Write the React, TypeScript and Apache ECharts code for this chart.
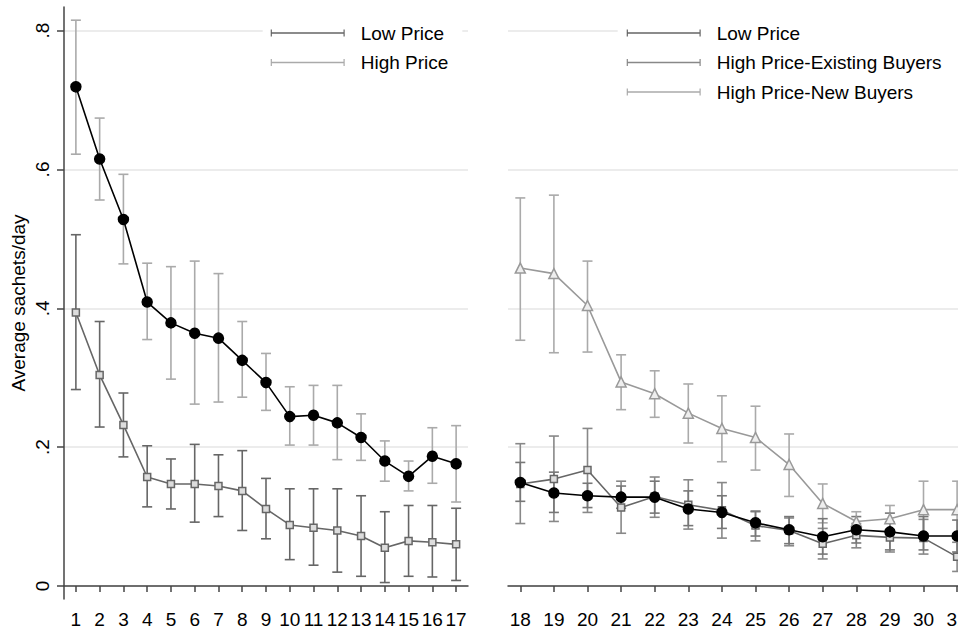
import React, { useEffect, useRef } from "react";
import * as echarts from "echarts";

const leftDays = [1, 2, 3, 4, 5, 6, 7, 8, 9, 10, 11, 12, 13, 14, 15, 16, 17];
const rightDays = [18, 19, 20, 21, 22, 23, 24, 25, 26, 27, 28, 29, 30, 31];
const yTickValues = [0, 0.2, 0.4, 0.6, 0.8];
const yTickLabels = ["0", ".2", ".4", ".6", ".8"];

// Left panel: black circles (light-grey CI) and grey squares (dark-grey CI)
const leftCircle = [0.719, 0.615, 0.528, 0.409, 0.379, 0.364, 0.357, 0.325, 0.293, 0.244, 0.246, 0.235, 0.214, 0.18, 0.158, 0.187, 0.176];
const leftCircleLo = [0.622, 0.556, 0.464, 0.355, 0.298, 0.262, 0.265, 0.272, 0.253, 0.203, 0.203, 0.182, 0.181, 0.151, 0.137, 0.148, 0.121];
const leftCircleHi = [0.815, 0.674, 0.593, 0.465, 0.46, 0.468, 0.45, 0.381, 0.335, 0.287, 0.289, 0.289, 0.248, 0.209, 0.18, 0.228, 0.231];
const leftSquare = [0.394, 0.304, 0.232, 0.157, 0.147, 0.147, 0.144, 0.137, 0.111, 0.088, 0.084, 0.08, 0.072, 0.055, 0.065, 0.063, 0.06];
const leftSquareLo = [0.283, 0.229, 0.186, 0.114, 0.111, 0.092, 0.1, 0.08, 0.068, 0.038, 0.03, 0.02, 0.014, 0.005, 0.014, 0.013, 0.008];
const leftSquareHi = [0.506, 0.381, 0.278, 0.202, 0.183, 0.204, 0.189, 0.195, 0.155, 0.14, 0.14, 0.14, 0.13, 0.107, 0.116, 0.116, 0.112];

// Right panel
const rightLow = [0.149, 0.134, 0.13, 0.128, 0.128, 0.111, 0.106, 0.091, 0.081, 0.071, 0.081, 0.078, 0.072, 0.072];
const rightLowLo = [0.122, 0.106, 0.113, 0.112, 0.105, 0.087, 0.083, 0.072, 0.061, 0.046, 0.062, 0.052, 0.052, 0.049];
const rightLowHi = [0.178, 0.164, 0.148, 0.144, 0.151, 0.137, 0.13, 0.108, 0.1, 0.097, 0.1, 0.105, 0.1, 0.095];
const rightExist = [0.147, 0.154, 0.167, 0.113, 0.129, 0.117, 0.109, 0.087, 0.08, 0.061, 0.073, 0.07, 0.069, 0.042];
const rightExistLo = [0.09, 0.093, 0.106, 0.076, 0.099, 0.082, 0.069, 0.065, 0.058, 0.039, 0.055, 0.049, 0.046, 0.021];
const rightExistHi = [0.205, 0.216, 0.227, 0.151, 0.157, 0.153, 0.149, 0.107, 0.098, 0.083, 0.09, 0.092, 0.096, 0.063];
const rightNew = [0.458, 0.45, 0.404, 0.294, 0.277, 0.249, 0.227, 0.214, 0.175, 0.119, 0.093, 0.097, 0.11, 0.11];
const rightNewLo = [0.354, 0.336, 0.337, 0.254, 0.243, 0.206, 0.179, 0.167, 0.129, 0.091, 0.079, 0.079, 0.07, 0.07];
const rightNewHi = [0.559, 0.563, 0.468, 0.333, 0.31, 0.291, 0.274, 0.259, 0.219, 0.147, 0.107, 0.116, 0.151, 0.151];

const FONT = "'Liberation Sans', Arial, Helvetica, sans-serif";
const BAR_ICON = "path://M0,0H1.2V2.75H72.8V0H74V7H72.8V4.25H1.2V7H0Z";

const errorBars = (
  name: string,
  color: string,
  days: number[],
  lo: number[],
  hi: number[],
  idx: number
) => ({
  type: "custom",
  name,
  xAxisIndex: idx,
  yAxisIndex: idx,
  itemStyle: { color },
  encode: { x: 0, y: [1, 2] },
  z: 1,
  data: days.map((d, i) => [d, lo[i], hi[i]]),
  renderItem: (_params: any, api: any) => {
    const x = api.value(0);
    const a = api.coord([x, api.value(1)]);
    const b = api.coord([x, api.value(2)]);
    const hw = 5;
    const style = { stroke: color, lineWidth: 1.6, fill: "none" };
    return {
      type: "group",
      children: [
        { type: "line", shape: { x1: b[0], y1: b[1], x2: a[0], y2: a[1] }, style },
        { type: "line", shape: { x1: b[0] - hw, y1: b[1], x2: b[0] + hw, y2: b[1] }, style },
        { type: "line", shape: { x1: a[0] - hw, y1: a[1], x2: a[0] + hw, y2: a[1] }, style },
      ],
    };
  },
});

const lineSeries = (
  name: string,
  days: number[],
  vals: number[],
  idx: number,
  lineColor: string,
  symbol: string,
  symbolSize: number,
  fill: string,
  border: string,
  z: number
) => ({
  type: "line",
  name,
  xAxisIndex: idx,
  yAxisIndex: idx,
  data: days.map((d, i) => [d, vals[i]]),
  symbol,
  symbolSize,
  showSymbol: true,
  lineStyle: { color: lineColor, width: 1.6 },
  itemStyle: { color: fill, borderColor: border, borderWidth: 1.5, opacity: 1 },
  z,
});

const yMin = -0.0187;
const yMax = 0.834;

export default function App() {
  const ref = useRef<HTMLDivElement>(null);
  useEffect(() => {
    if (!ref.current) return;
    const chart = echarts.init(ref.current, undefined, { renderer: "svg" });
    const legendText = { fontSize: 19, color: "#000", fontFamily: FONT, lineHeight: 20, padding: [0, 0, 0, 11] };
    chart.setOption({
      animation: false,
      backgroundColor: "#fff",
      textStyle: { fontFamily: FONT },
      grid: [
        { left: 64, top: 7, width: 404, height: 592 },
        { left: 508, top: 7, width: 461.4, height: 592 },
      ],
      xAxis: [
        {
          type: "value",
          gridIndex: 0,
          min: 0.5,
          max: 17.5,
          axisLine: { show: true, lineStyle: { color: "#444", width: 1.5 } },
          axisTick: { show: true, length: 6, customValues: leftDays, lineStyle: { color: "#444", width: 1.5 } },
          axisLabel: { customValues: leftDays, fontSize: 19, color: "#000", margin: 11, fontFamily: FONT },
          splitLine: { show: false },
        },
        {
          type: "value",
          gridIndex: 1,
          min: 17.634,
          max: 31.366,
          axisLine: { show: true, lineStyle: { color: "#444", width: 1.5 } },
          axisTick: { show: true, length: 6, customValues: rightDays, lineStyle: { color: "#444", width: 1.5 } },
          axisLabel: { customValues: rightDays, fontSize: 19, color: "#000", margin: 11, fontFamily: FONT },
          splitLine: { show: false },
        },
      ],
      yAxis: [
        {
          type: "value",
          gridIndex: 0,
          min: yMin,
          max: yMax,
          name: "Average sachets/day",
          nameLocation: "middle",
          nameGap: 36,
          nameTextStyle: { fontSize: 19, color: "#000", fontFamily: FONT },
          axisLine: { show: true, lineStyle: { color: "#444", width: 1.5 } },
          axisTick: { show: true, length: 7, customValues: yTickValues, lineStyle: { color: "#444", width: 1.5 } },
          axisLabel: {
            customValues: yTickValues,
            rotate: 90,
            fontSize: 19,
            color: "#000",
            margin: 12,
            fontFamily: FONT,
            formatter: (v: number) => {
              const i = yTickValues.findIndex((t) => Math.abs(t - v) < 1e-6);
              return i >= 0 ? yTickLabels[i] : "";
            },
          },
          splitLine: { show: true, lineStyle: { color: "#e6e6e6", width: 1.5 } },
        },
        {
          type: "value",
          gridIndex: 1,
          min: yMin,
          max: yMax,
          axisLine: { show: false },
          axisTick: { show: false, customValues: yTickValues },
          axisLabel: { show: false, customValues: yTickValues },
          splitLine: { show: true, lineStyle: { color: "#e6e6e6", width: 1.5 } },
        },
      ],
      legend: [
        {
          data: [
            { name: "Low Price", itemStyle: { color: "#666" } },
            { name: "High Price", itemStyle: { color: "#aaa" } },
          ],
          orient: "vertical",
          left: 262.7,
          top: 18,
          padding: [5, 14, 5, 8],
          itemWidth: 74,
          itemHeight: 7,
          itemGap: 9.5,
          icon: BAR_ICON,
          backgroundColor: "#fff",
          selectedMode: false,
          textStyle: legendText,
        },
        {
          data: [
            { name: "Low Price", itemStyle: { color: "#666" } },
            { name: "High Price-Existing Buyers", itemStyle: { color: "#888" } },
            { name: "High Price-New Buyers", itemStyle: { color: "#aaa" } },
          ],
          orient: "vertical",
          left: 617.7,
          top: 18,
          padding: [5, 20, 5, 9],
          itemWidth: 74,
          itemHeight: 7,
          itemGap: 9.5,
          icon: BAR_ICON,
          backgroundColor: "#fff",
          selectedMode: false,
          textStyle: legendText,
        },
      ],
      series: [
        errorBars("High Price", "#aaa", leftDays, leftCircleLo, leftCircleHi, 0),
        errorBars("Low Price", "#666", leftDays, leftSquareLo, leftSquareHi, 0),
        lineSeries("Left circles", leftDays, leftCircle, 0, "#000", "circle", 10, "#000", "#000", 3),
        lineSeries("Left squares", leftDays, leftSquare, 0, "#666", "rect", 7, "#ddd", "#666", 3),
        errorBars("High Price-New Buyers", "#aaa", rightDays, rightNewLo, rightNewHi, 1),
        errorBars("High Price-Existing Buyers", "#888", rightDays, rightExistLo, rightExistHi, 1),
        errorBars("Low Price", "#777", rightDays, rightLowLo, rightLowHi, 1),
        lineSeries("Right new", rightDays, rightNew, 1, "#999", "triangle", 10, "#eee", "#999", 3),
        lineSeries("Right existing", rightDays, rightExist, 1, "#666", "rect", 7, "#ddd", "#666", 3),
        lineSeries("Right low", rightDays, rightLow, 1, "#000", "circle", 10, "#000", "#000", 4),
      ],
    });
    return () => chart.dispose();
  }, []);
  return (
    <div
      ref={ref}
      style={{ position: "fixed", left: 0, top: 0, width: 972, height: 631, background: "#fff" }}
    />
  );
}
